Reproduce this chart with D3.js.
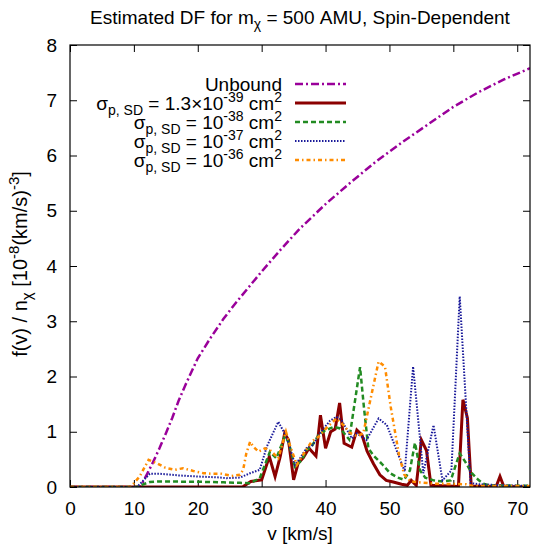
<!DOCTYPE html>
<html>
<head>
<meta charset="utf-8">
<script src="https://cdn.jsdelivr.net/npm/d3@7"></script>
<style>
  body { margin: 0; background: #fff; }
  text { font-family: "Liberation Sans", Arial, sans-serif; fill: #000; }
</style>
</head>
<body>
<script>
// values, v in km/s, f in 10^-8 (km/s)^-3
var xTicks = [0, 10, 20, 30, 40, 50, 60, 70];
var yTicks = [0, 1, 2, 3, 4, 5, 6, 7, 8];

var vUnbound = [0, 10, 11, 12, 13, 14, 15, 16, 17, 18, 19, 20, 22, 24, 26, 28, 30, 33, 36, 40, 44, 48, 52, 56, 60, 64, 68, 72];
var fUnbound = [0, 0, 0, 0.22, 0.45, 0.7, 0.97, 1.25, 1.56, 1.83, 2.08, 2.33, 2.7, 3.04, 3.34, 3.62, 3.9, 4.3, 4.68, 5.12, 5.52, 5.9, 6.24, 6.56, 6.88, 7.15, 7.38, 7.58];

var vRed = [0, 27, 28.3, 30, 31.2, 32.1, 32.9, 33.6, 34.2, 35, 35.7, 36.5, 37.4, 38.5, 39.2, 40, 40.8, 41.5, 42.2, 42.9, 44.1, 44.9, 45.7, 46.5, 47.5, 48.5, 49.5, 50.6, 51.9, 52.8, 53.4, 54.2, 55, 55.8, 56.5, 60.8, 61.5, 62.2, 62.8, 66.7, 67.3, 67.9, 72];
var fRed = [0, 0, 0.1, 0.13, 0.55, 0.19, 0.55, 0.97, 0.85, 0.13, 0.43, 0.53, 0.7, 0.56, 1.3, 0.7, 1.0, 1.05, 1.52, 0.79, 0.72, 1.03, 0.94, 0.65, 0.42, 0.22, 0.12, 0.09, 0.05, 0.03, 0.12, 0.03, 0.85, 0.66, 0.03, 0.01, 1.58, 1.25, 0.02, 0.01, 0.19, 0.01, 0];

var vGreen = [0, 10.5, 11.5, 12.5, 14, 20, 24, 26.6, 28.2, 29.7, 31.3, 32.3, 33.6, 34.2, 35.2, 36.3, 37, 37.8, 38.9, 39.9, 40.7, 41.3, 42.3, 43.7, 45.4, 46, 46.7, 47.5, 48.8, 50.1, 51.3, 52.3, 53.2, 54, 54.8, 55.6, 56.9, 58.4, 59.6, 60.3, 61, 61.9, 62.9, 63.9, 64.7, 65.7, 72];
var fGreen = [0, 0, 0.05, 0.09, 0.1, 0.095, 0.085, 0.075, 0.07, 0.16, 0.64, 0.52, 0.91, 0.82, 0.37, 0.49, 0.67, 0.73, 0.94, 1.02, 1.06, 1.09, 1.06, 0.86, 2.17, 1.45, 0.7, 0.57, 0.42, 0.25, 0.17, 0.13, 0.3, 0.8, 0.3, 0.17, 0.12, 0.1, 0.12, 0.37, 0.61, 0.45, 0.25, 0.13, 0.06, 0.03, 0.02];

var vBlue = [0, 10.5, 11.5, 12.5, 14, 17, 20, 23, 24.5, 26.6, 28.2, 29.7, 30.8, 32.6, 33.6, 34.4, 35.2, 36, 37, 38, 39.1, 40.7, 41.7, 42.5, 44.1, 44.9, 46.4, 48.3, 49.6, 51.1, 52.4, 53.7, 55.3, 56.9, 58.3, 59.7, 61, 62.7, 64, 68, 72];
var fBlue = [0, 0, 0.12, 0.24, 0.24, 0.21, 0.19, 0.175, 0.16, 0.17, 0.25, 0.31, 0.73, 1.18, 0.97, 0.73, 0.4, 0.52, 0.7, 0.76, 0.97, 1.2, 1.27, 1.21, 0.88, 0.97, 0.85, 1.24, 1.12, 0.67, 0.28, 2.18, 0.25, 1.12, 0.12, 0.3, 3.45, 0.07, 0.05, 0.03, 0.02];

var vOrange = [0, 9.5, 10.9, 12.3, 13.6, 14.9, 16.4, 17.7, 19.3, 20.9, 22.2, 23.7, 25.3, 26.6, 27.1, 27.6, 28.2, 28.7, 29.5, 30.5, 31.3, 32.6, 33.8, 34.4, 35.5, 36.3, 37.8, 38.9, 40.4, 41.7, 42.8, 43.8, 44.9, 45.9, 47, 48.3, 49.3, 50.2, 51.5, 52.3, 53.3, 57, 62, 63, 72];
var fOrange = [0, 0, 0.19, 0.49, 0.43, 0.35, 0.31, 0.34, 0.29, 0.25, 0.24, 0.24, 0.2, 0.22, 0.31, 0.61, 0.82, 0.73, 0.64, 0.7, 0.67, 0.52, 1.0, 0.76, 0.4, 0.55, 0.82, 0.91, 1.1, 1.24, 1.12, 0.98, 0.92, 0.97, 1.57, 2.27, 2.18, 1.45, 0.58, 0.23, 0.1, 0.06, 0.05, 0.02, 0.02];

var series = [
  {v: vUnbound, f: fUnbound, color: "#9a009a", width: 2.5, dash: "8,3,2,3"},
  {v: vRed, f: fRed, color: "#8b0000", width: 3, dash: null},
  {v: vGreen, f: fGreen, color: "#228b22", width: 2.5, dash: "5,3"},
  {v: vBlue, f: fBlue, color: "#1a1a9a", width: 2, dash: "1.5,1.5"},
  {v: vOrange, f: fOrange, color: "#ff8c00", width: 2.5, dash: "4,3,1.5,3"}
];

var W = 536, H = 546;
var pLeft = 70, pRight = 530, pTop = 45, pBottom = 487;
var fs = 19, fsSmall = 14;

var svg = d3.select("body").append("svg")
  .attr("width", W)
  .attr("height", H);

var x = d3.scaleLinear().domain([0, 72]).range([pLeft, pRight]);
var y = d3.scaleLinear().domain([0, 8]).range([pBottom, pTop]);

// axes, ticks pointing inward, mirrored on top and right
var tk = 7;
svg.append("g").attr("transform", "translate(0," + pBottom + ")")
  .call(d3.axisBottom(x).tickValues(xTicks).tickSize(-tk).tickPadding(tk + 8));
svg.append("g").attr("transform", "translate(0," + pTop + ")")
  .call(d3.axisTop(x).tickValues(xTicks).tickSize(-tk).tickFormat(""));
svg.append("g").attr("transform", "translate(" + pLeft + ",0)")
  .call(d3.axisLeft(y).tickValues(yTicks).tickSize(-tk).tickPadding(tk + 6));
svg.append("g").attr("transform", "translate(" + pRight + ",0)")
  .call(d3.axisRight(y).tickValues(yTicks).tickSize(-tk).tickFormat(""));

svg.selectAll(".domain").remove();
svg.selectAll(".tick line").attr("stroke", "#000");
svg.selectAll(".tick text").attr("font-size", fs).attr("fill", "#000")
  .attr("font-family", "Liberation Sans, Arial, sans-serif");

svg.append("clipPath").attr("id", "plotclip")
  .append("rect").attr("x", pLeft).attr("y", pTop)
  .attr("width", pRight - pLeft).attr("height", pBottom - pTop);

var line = d3.line().x(function(d){ return x(d[0]); }).y(function(d){ return y(d[1]); });

var plot = svg.append("g").attr("clip-path", "url(#plotclip)");
for (var i = 0; i < series.length; i++) {
  var s = series[i];
  var pts = s.v.map(function(v, j){ return [v, s.f[j]]; });
  plot.append("path")
    .datum(pts)
    .attr("d", line)
    .attr("fill", "none")
    .attr("stroke", s.color)
    .attr("stroke-width", s.width)
    .attr("stroke-dasharray", s.dash)
    .attr("stroke-linejoin", "miter");
}

svg.append("rect")
  .attr("x", pLeft).attr("y", pTop)
  .attr("width", pRight - pLeft).attr("height", pBottom - pTop)
  .attr("fill", "none").attr("stroke", "#000").attr("stroke-width", 1.2);

// legend
var legendY = [84, 103, 122, 141, 160];
var sigmaExp = ["-39", "-38", "-37", "-36"];
var sigmaPre = ["1.3\u00d710", "10", "10", "10"];
for (var k = 0; k < series.length; k++) {
  var t = svg.append("text")
    .attr("x", 282).attr("y", legendY[k] + 7)
    .attr("text-anchor", "end")
    .attr("font-size", fs);
  if (k == 0) {
    t.text("Unbound");
  } else {
    t.append("tspan").text("\u03c3");
    t.append("tspan").attr("dy", 5).attr("font-size", fsSmall).text("p, SD");
    t.append("tspan").attr("dy", -5).text(" = " + sigmaPre[k - 1]);
    t.append("tspan").attr("dy", -8).attr("font-size", fsSmall).text(sigmaExp[k - 1]);
    t.append("tspan").attr("dy", 8).text(" cm");
    t.append("tspan").attr("dy", -8).attr("font-size", fsSmall).text("2");
  }
  svg.append("line")
    .attr("x1", 295).attr("x2", 346)
    .attr("y1", legendY[k]).attr("y2", legendY[k])
    .attr("stroke", series[k].color)
    .attr("stroke-width", series[k].width)
    .attr("stroke-dasharray", series[k].dash);
}

// title
var title = svg.append("text")
  .attr("x", 300).attr("y", 24)
  .attr("text-anchor", "middle")
  .attr("font-size", fs);
title.append("tspan").text("Estimated DF for m");
title.append("tspan").attr("dy", 5).attr("font-size", fsSmall).text("\u03c7");
title.append("tspan").attr("dy", -5).text(" = 500 AMU, Spin-Dependent");

// x label
svg.append("text")
  .attr("x", 300).attr("y", 540)
  .attr("text-anchor", "middle")
  .attr("font-size", fs)
  .text("v [km/s]");

// y label
var yl = svg.append("text")
  .attr("transform", "translate(27,264) rotate(-90)")
  .attr("text-anchor", "middle")
  .attr("font-size", 20);
yl.append("tspan").text("f(v) / n");
yl.append("tspan").attr("dy", 5).attr("font-size", 15).text("\u03c7");
yl.append("tspan").attr("dy", -5).text(" [10");
yl.append("tspan").attr("dy", -8).attr("font-size", 15).text("-8");
yl.append("tspan").attr("dy", 8).text("(km/s)");
yl.append("tspan").attr("dy", -8).attr("font-size", 15).text("-3");
yl.append("tspan").attr("dy", 8).text("]");
</script>
</body>
</html>
